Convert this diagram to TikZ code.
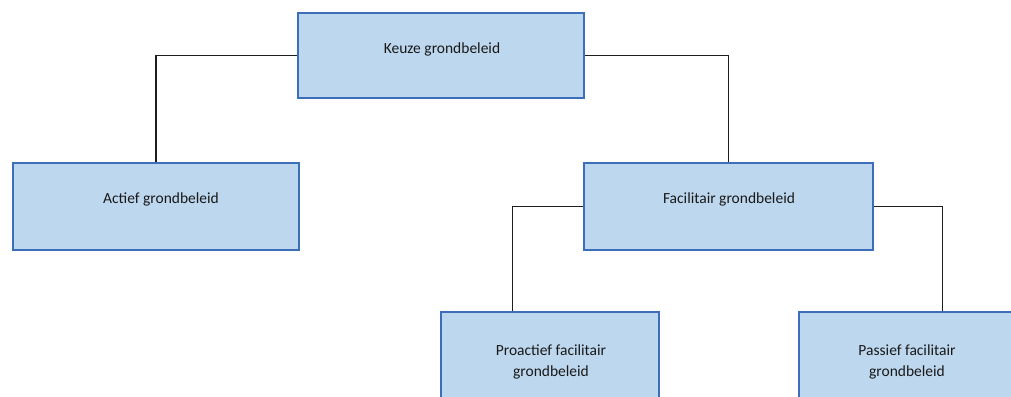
\documentclass[tikz,border=0pt]{standalone}
\usepackage{fontspec}
\setmainfont{Carlito}
\usetikzlibrary{calc}
\definecolor{boxfill}{RGB}{189,215,238}
\definecolor{boxline}{RGB}{60,110,185}
\definecolor{conn}{RGB}{30,30,30}
\tikzset{
  box/.style={draw=boxline, fill=boxfill, line width=2pt, inner sep=0pt, rectangle},
  lbl/.style={anchor=base, inner sep=0pt, font=\fontsize{15.5}{21}\selectfont, text=black!90, align=center},
  link/.style={draw=conn, line width=1.1pt}
}
\begin{document}
\begin{tikzpicture}[x=1pt,y=-1pt]
\fill[white] (0,0) rectangle (1011,396);
\useasboundingbox (0,0) rectangle (1011,396);
\clip (0,0) rectangle (1011,396);
\node[box, minimum width=286pt, minimum height=85pt] (keuze) at (441,55.5) {};
\node[box, minimum width=286pt, minimum height=87pt] (actief) at (156,206.5) {};
\node[box, minimum width=289pt, minimum height=87pt] (facil) at (728.5,206.5) {};
\node[box, minimum width=218pt, minimum height=90pt] (proact) at (550,357) {};
\node[box, minimum width=217pt, minimum height=90pt] (passief) at (907.5,357) {};
\node[lbl] (tkeuze) at (442,53) {Keuze grondbeleid};
\node[lbl] (tactief) at (161,203) {Actief grondbeleid};
\node[lbl] (tfacil) at (729,203) {Facilitair grondbeleid};
\node[lbl] (tproact1) at (551,355) {Proactief facilitair};
\node[lbl] (tproact2) at (551,376) {grondbeleid};
\node[lbl] (tpass1) at (907,355) {Passief facilitair};
\node[lbl] (tpass2) at (907,376) {grondbeleid};
\coordinate (cproact) at ($(proact.north west)!0.33!(proact.north east)$);
\coordinate (cpass) at ($(passief.north west)!0.66!(passief.north east)$);
\draw[link] (keuze.west) -| (actief.north);
\draw[link] (keuze.east) -| (facil.north);
\draw[link] (facil.west) -| (cproact);
\draw[link] (facil.east) -| (cpass);
\end{tikzpicture}
\end{document}
